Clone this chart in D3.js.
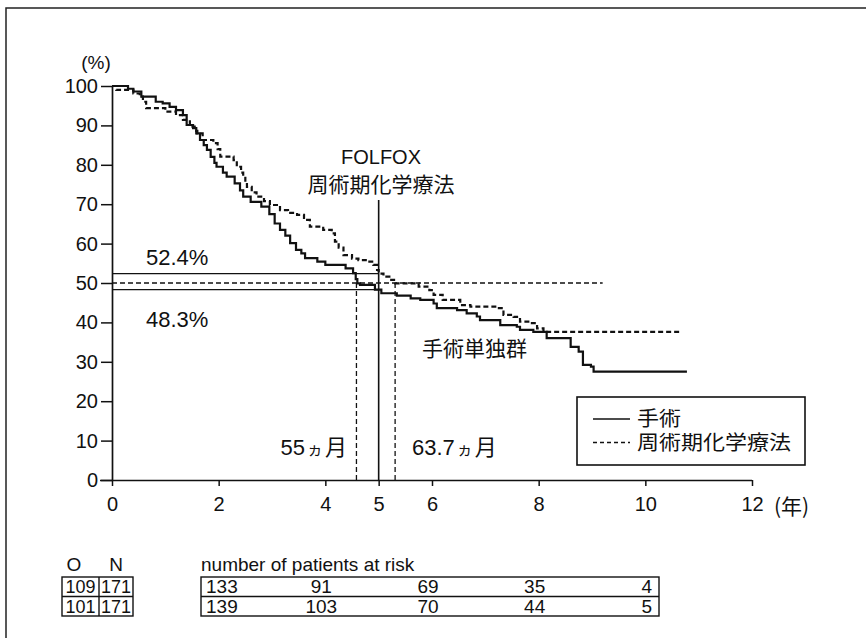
<!DOCTYPE html>
<html>
<head>
<meta charset="utf-8">
<script src="https://cdn.jsdelivr.net/npm/d3@7"></script>
<style>
  html, body { margin: 0; padding: 0; background: #fff; }
  svg text { font-family: "Liberation Sans", Arial, "Noto Sans CJK JP", sans-serif; fill: #111; }
  .jp { font-family: "Noto Sans CJK JP", "Liberation Sans", sans-serif; }
</style>
</head>
<body>
<svg id="chart" width="866" height="638"></svg>
<script>
// Kaplan–Meier overall survival: surgery alone vs perioperative FOLFOX
const xTickValues = [0, 2, 4, 5, 6, 8, 10, 12];
const yTickValues = [0, 10, 20, 30, 40, 50, 60, 70, 80, 90, 100];

// [years, survival %] at each step
const surgerySteps = [
  [0,100],[0.30,99.3],[0.40,98.6],[0.55,97.3],[0.82,96.0],[0.95,95.6],[1.08,94.7],[1.20,93.9],
  [1.33,92.6],[1.40,90.1],[1.52,89.3],[1.58,88.0],[1.65,86.3],[1.72,85.0],[1.78,83.8],[1.85,82.0],
  [1.92,80.5],[1.96,79.5],[2.08,78.0],[2.15,77.0],[2.30,75.3],[2.40,73.5],[2.46,71.9],[2.60,70.6],
  [2.80,69.4],[2.95,67.5],[3.05,65.1],[3.15,63.5],[3.25,62.0],[3.34,60.1],[3.45,58.4],[3.55,57.5],
  [3.62,56.3],[3.85,55.4],[4.00,54.6],[4.38,53.7],[4.52,52.5],[4.57,51.0],[4.60,49.9],[4.65,49.5],
  [4.93,48.3],[5.05,47.4],[5.34,46.8],[5.60,46.1],[5.78,45.7],[6.03,44.8],[6.09,43.6],[6.47,43.1],
  [6.65,42.3],[6.84,41.5],[6.90,40.6],[7.28,39.3],[7.59,38.9],[7.65,38.1],[7.90,37.6],[8.15,36.0],
  [8.60,33.8],[8.75,32.6],[8.83,29.2],[8.98,28.8],[9.03,27.5],[10.78,27.5]
];
const chemoSteps = [
  [0,100],[0.08,99.0],[0.40,98.1],[0.52,97.3],[0.58,96.0],[0.64,94.4],[1.00,93.5],[1.20,92.6],
  [1.33,91.4],[1.46,89.7],[1.55,88.6],[1.60,88.0],[1.70,86.3],[1.90,85.5],[1.98,84.0],[2.03,82.1],
  [2.28,81.2],[2.34,79.5],[2.42,78.0],[2.46,77.0],[2.50,75.5],[2.53,74.4],[2.62,73.0],[2.71,71.9],
  [2.85,70.8],[2.96,69.8],[3.15,68.5],[3.30,67.8],[3.47,67.3],[3.60,66.0],[3.71,64.3],[3.96,63.5],
  [4.12,62.6],[4.18,60.5],[4.25,59.0],[4.34,57.1],[4.50,56.2],[4.62,55.8],[4.78,55.4],[4.90,54.6],
  [4.97,53.3],[5.00,52.4],[5.09,51.6],[5.20,50.8],[5.31,49.9],[5.75,49.1],[5.95,48.2],[6.03,47.0],
  [6.20,45.7],[6.53,44.4],[6.72,44.0],[7.22,43.6],[7.34,41.9],[7.53,41.4],[7.65,40.2],[7.84,39.8],
  [7.97,38.5],[8.09,37.6],[10.66,37.6]
];

// five-year survival and median survival (months)
const fiveYearSurgery = 48.3;
const fiveYearChemo = 52.4;
const medianSurgeryMonths = 55;
const medianChemoMonths = 63.7;
const medianLineEnd = 9.2;

// numbers at risk
const riskYears = [2, 4, 6, 8, 10];
const riskSurgery = [133, 91, 69, 35, 4];
const riskChemo = [139, 103, 70, 44, 5];
const eventsTotals = [[109, 171], [101, 171]];
const legendLabels = ["手術", "周術期化学療法"];

const svg = d3.select("#chart");
const x = d3.scaleLinear().domain([0, 12]).range([112, 752]);
const y = d3.scaleLinear().domain([0, 100]).range([480, 86]);
const dash = "5,3";

// outer frame (top and left edges)
svg.append("path").attr("d", "M6,638 V8 H866").attr("fill", "none")
  .attr("stroke", "#222").attr("stroke-width", 1.5);

// axes
const yAxis = svg.append("g").attr("transform", `translate(${x(0)},0)`)
  .call(d3.axisLeft(y).tickValues(yTickValues).tickSize(11).tickSizeOuter(0).tickPadding(3));
const xAxis = svg.append("g").attr("transform", `translate(0,${y(0)})`)
  .call(d3.axisBottom(x).tickValues(xTickValues).tickSize(6).tickSizeOuter(0).tickPadding(11));
[yAxis, xAxis].forEach(g => {
  g.select(".domain").attr("stroke", "#111").attr("stroke-width", 1.7);
  g.selectAll(".tick line").attr("stroke", "#111").attr("stroke-width", 1.5);
  g.selectAll(".tick text").attr("font-size", 20).attr("fill", "#111")
    .attr("font-family", "'Liberation Sans', Arial, sans-serif");
});
xAxis.select(".domain").attr("d", `M${x(0) - 12},0.5H${x(12)}`);

svg.append("text").attr("x", 96).attr("y", 69).attr("text-anchor", "middle")
  .attr("font-size", 19).text("(%)");
svg.append("text").attr("x", 774).attr("y", 514).attr("font-size", 21)
  .attr("class", "jp").text("(年)");

// reference lines
const g = svg.append("g").attr("fill", "none").attr("stroke", "#111");
g.append("line").attr("x1", x(0)).attr("x2", x(5)).attr("y1", y(fiveYearChemo)).attr("y2", y(fiveYearChemo))
  .attr("stroke-width", 1.3);
g.append("line").attr("x1", x(0)).attr("x2", x(5)).attr("y1", y(fiveYearSurgery)).attr("y2", y(fiveYearSurgery))
  .attr("stroke-width", 1.3);
g.append("line").attr("x1", x(0)).attr("x2", x(medianLineEnd)).attr("y1", y(50)).attr("y2", y(50))
  .attr("stroke-width", 1.3).attr("stroke-dasharray", dash);
g.append("line").attr("x1", x(medianSurgeryMonths / 12)).attr("x2", x(medianSurgeryMonths / 12))
  .attr("y1", y(50)).attr("y2", y(0)).attr("stroke-width", 1.3).attr("stroke-dasharray", dash);
g.append("line").attr("x1", x(medianChemoMonths / 12)).attr("x2", x(medianChemoMonths / 12))
  .attr("y1", y(50)).attr("y2", y(0)).attr("stroke-width", 1.3).attr("stroke-dasharray", dash);
g.append("line").attr("x1", x(5)).attr("x2", x(5)).attr("y1", 200).attr("y2", y(0))
  .attr("stroke-width", 1.6);

// survival curves
const line = d3.line().x(d => x(d[0])).y(d => y(d[1])).curve(d3.curveStepAfter);
g.append("path").attr("d", line(surgerySteps)).attr("stroke-width", 2.2);
g.append("path").attr("d", line(chemoSteps)).attr("stroke-width", 2.2).attr("stroke-dasharray", dash);

// annotations
svg.append("text").attr("x", 381).attr("y", 164).attr("text-anchor", "middle").attr("font-size", 20).text("FOLFOX");
svg.append("text").attr("x", 381).attr("y", 192).attr("text-anchor", "middle").attr("font-size", 21)
  .attr("class", "jp").text("周術期化学療法");
svg.append("text").attr("x", 146).attr("y", 265).attr("font-size", 22).text(`${fiveYearChemo}%`);
svg.append("text").attr("x", 146).attr("y", 327).attr("font-size", 22).text(`${fiveYearSurgery}%`);
svg.append("text").attr("x", 347).attr("y", 455).attr("text-anchor", "end").attr("font-size", 22)
  .html(`${medianSurgeryMonths}<tspan class="jp" font-size="16" dx="2">ヵ</tspan><tspan class="jp" dx="2">月</tspan>`);
svg.append("text").attr("x", 412).attr("y", 455).attr("font-size", 22)
  .html(`${medianChemoMonths}<tspan class="jp" font-size="16" dx="2">ヵ</tspan><tspan class="jp" dx="2">月</tspan>`);
svg.append("text").attr("x", 422).attr("y", 356).attr("font-size", 21).attr("class", "jp").text("手術単独群");

// legend
const lg = svg.append("g");
lg.append("rect").attr("x", 577).attr("y", 397).attr("width", 228).attr("height", 68)
  .attr("fill", "#fff").attr("stroke", "#111").attr("stroke-width", 1.6);
legendLabels.forEach((lab, i) => {
  const yy = 419 + i * 23.5;
  lg.append("line").attr("x1", 593).attr("x2", 630).attr("y1", yy).attr("y2", yy)
    .attr("stroke", "#111").attr("stroke-width", 1.6).attr("stroke-dasharray", i ? "4,3" : null);
  lg.append("text").attr("x", 637).attr("y", yy + 7).attr("font-size", 20)
    .attr("font-family", "'Liberation Sans', 'Noto Sans CJK JP', sans-serif")
    .attr("textLength", lab.length * 22).attr("lengthAdjust", "spacingAndGlyphs").text(lab);
});

// numbers-at-risk table
const tTop = 577, rowH = 19.5;
svg.append("text").attr("x", 74).attr("y", tTop - 6).attr("text-anchor", "middle").attr("font-size", 19).text("O");
svg.append("text").attr("x", 116).attr("y", tTop - 6).attr("text-anchor", "middle").attr("font-size", 19).text("N");
svg.append("text").attr("x", 201).attr("y", tTop - 6).attr("font-size", 19).text("number of patients at risk");

const tb = svg.append("g").attr("fill", "none").attr("stroke", "#111").attr("stroke-width", 1.4);
tb.append("rect").attr("x", 62).attr("y", tTop).attr("width", 71).attr("height", rowH * 2);
tb.append("line").attr("x1", 99).attr("x2", 99).attr("y1", tTop).attr("y2", tTop + rowH * 2);
tb.append("line").attr("x1", 62).attr("x2", 133).attr("y1", tTop + rowH).attr("y2", tTop + rowH);
tb.append("rect").attr("x", 201).attr("y", tTop).attr("width", 458).attr("height", rowH * 2);
tb.append("line").attr("x1", 201).attr("x2", 659).attr("y1", tTop + rowH).attr("y2", tTop + rowH);

eventsTotals.forEach((row, r) => {
  row.forEach((v, c) => {
    svg.append("text").attr("x", c ? 116 : 80.5).attr("y", tTop + rowH * r + 16)
      .attr("text-anchor", "middle").attr("font-size", 18)
      .attr("textLength", 30).attr("lengthAdjust", "spacingAndGlyphs").text(v);
  });
});
[riskSurgery, riskChemo].forEach((row, r) => {
  row.forEach((v, i) => {
    const first = i === 0, last = i === row.length - 1;
    svg.append("text")
      .attr("x", first ? 206 : last ? 652 : x(riskYears[i]) - 4)
      .attr("y", tTop + rowH * r + 16)
      .attr("text-anchor", first ? "start" : last ? "end" : "middle")
      .attr("font-size", 19).text(v);
  });
});
</script>
</body>
</html>
